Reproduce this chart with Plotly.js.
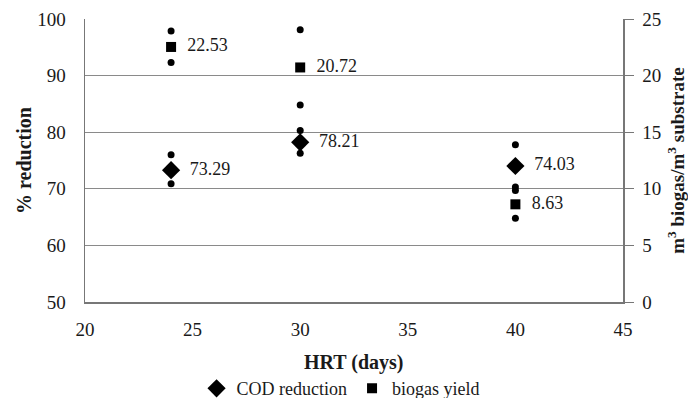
<!DOCTYPE html>
<html>
<head>
<meta charset="utf-8">
<script src="https://cdn.plot.ly/plotly-3.0.1.min.js"></script>
<style>html,body{margin:0;padding:0;background:#fff;}</style>
</head>
<body>
<div id="chart" style="width:688px;height:398px;"></div>
<script>
// HRT (days)
const hrt = [24, 30, 40];
// COD reduction (%), left axis
const codMean = [73.29, 78.21, 74.03];
const codUpper = [76.0, 80.3, 77.8];
const codLower = [70.9, 76.3, 70.3];
const codLabels = ["73.29", "78.21", "74.03"];
// Biogas yield (m3 biogas / m3 substrate), right axis
const bioMean = [22.53, 20.72, 8.63];
const bioUpper = [23.95, 24.05, 9.85];
const bioLower = [21.15, 17.4, 7.4];
const bioLabels = ["22.53", "20.72", "8.63"];
const xTitle = "HRT (days)";

const serif = "Liberation Serif";
const ink = "#1a1a1a";
const dotMarker = {symbol: "circle", size: 7, color: "#000"};

const traces = [
  {x: hrt.concat(hrt), y: codUpper.concat(codLower), type: "scatter", mode: "markers",
   marker: dotMarker, showlegend: false, hoverinfo: "skip", yaxis: "y"},
  {x: hrt.concat(hrt), y: bioUpper.concat(bioLower), type: "scatter", mode: "markers",
   marker: dotMarker, showlegend: false, hoverinfo: "skip", yaxis: "y2"},
  {x: hrt, y: codMean, name: "COD reduction", type: "scatter", mode: "markers+text",
   text: codLabels, texttemplate: "  %{text}", textposition: "middle right",
   textfont: {family: serif, size: 18, color: ink},
   marker: {symbol: "diamond", size: 14, color: "#000"}, yaxis: "y"},
  {x: hrt, y: bioMean, name: "biogas yield", type: "scatter", mode: "markers+text",
   text: bioLabels, texttemplate: "  %{text}", textposition: "middle right",
   textfont: {family: serif, size: 18, color: ink},
   marker: {symbol: "square", size: 10, color: "#000"}, yaxis: "y2"}
];

const layout = {
  width: 688, height: 398,
  margin: {l: 85, r: 65, t: 19, b: 96},
  paper_bgcolor: "#fff", plot_bgcolor: "#fff",
  font: {family: serif, color: ink, size: 18},
  showlegend: true,
  legend: {orientation: "h", x: 0.495, xanchor: "center", xref: "container",
           y: 0.07, yanchor: "top", yref: "container",
           font: {family: serif, size: 18, color: ink}, tracegroupgap: 0, itemwidth: 30},
  annotations: [
    {text: "<b>" + xTitle + "</b>", xref: "paper", yref: "paper", x: 0.5, y: -0.215,
     xanchor: "center", yanchor: "middle", showarrow: false,
     font: {family: serif, size: 20, color: ink}}
  ],
  xaxis: {range: [20, 45], dtick: 5, tick0: 20, showgrid: false, zeroline: false,
          showline: true, linecolor: "#777", linewidth: 1.5, ticks: "", ticklabelstandoff: 10,
          tickfont: {family: serif, size: 19, color: ink}},
  yaxis: {range: [50, 100], dtick: 10, tick0: 50, showgrid: true, gridcolor: "#8a8a8a", gridwidth: 1,
          zeroline: false, showline: true, linecolor: "#777", linewidth: 1.5, ticks: "",
          ticklabelstandoff: 14,
          tickfont: {family: serif, size: 19, color: ink},
          title: {text: "<b>% reduction</b>", font: {family: serif, size: 20, color: ink}, standoff: 0}},
  yaxis2: {range: [0, 25], dtick: 5, tick0: 0, overlaying: "y", side: "right", showgrid: false,
           zeroline: false, showline: true, linecolor: "#777", linewidth: 1.5,
           ticks: "outside", ticklen: 9, tickcolor: "#777", tickwidth: 1, ticklabelstandoff: 5,
           tickfont: {family: serif, size: 19, color: ink},
           title: {text: "<b>m<sup>3</sup> biogas/m<sup>3</sup> substrate</b>", font: {family: serif, size: 19, color: ink}, standoff: 10}}
};

Plotly.newPlot("chart", traces, layout, {displayModeBar: false, staticPlot: true});
</script>
</body>
</html>
